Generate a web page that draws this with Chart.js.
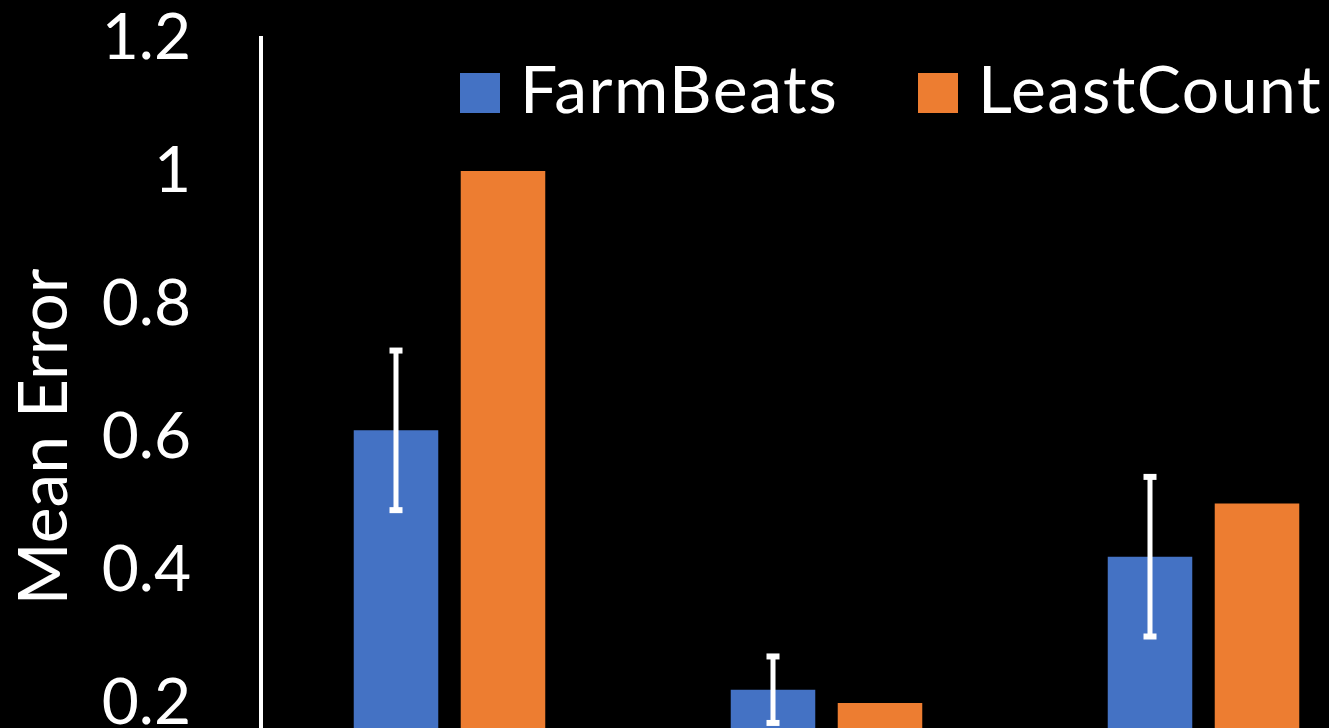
<!DOCTYPE html>
<html>
<head>
<meta charset="utf-8">
<script src="https://cdn.jsdelivr.net/npm/chart.js@4/dist/chart.umd.min.js"></script>
<style>
  html, body { margin: 0; padding: 0; background: #000; overflow: hidden; }
  #c { display: block; }
</style>
</head>
<body>
<canvas id="c" width="1400" height="880" style="width:1400px;height:880px"></canvas>
<script>
// ---- data ----
const categories = ['1', '2', '3'];
const seriesNames = ['FarmBeats', 'LeastCount'];
const farmBeats = [0.61, 0.22, 0.42];
const farmBeatsErr = [0.12, 0.05, 0.12];
const leastCount = [1.0, 0.2, 0.5];
const yTicks = [0, 0.2, 0.4, 0.6, 0.8, 1, 1.2];
const yTitle = 'Mean Error';

const colors = ['#4472C4', '#ED7D31'];
const FONT = 'Lato, "Open Sans", sans-serif';

const errorBars = {
  id: 'errorBars',
  afterDatasetsDraw(chart) {
    const meta = chart.getDatasetMeta(0);
    const y = chart.scales.y;
    const ctx = chart.ctx;
    ctx.save();
    ctx.strokeStyle = '#ffffff';
    ctx.fillStyle = '#ffffff';
    ctx.lineWidth = 5;
    meta.data.forEach((bar, i) => {
      const v = farmBeats[i], e = farmBeatsErr[i];
      const top = y.getPixelForValue(v + e);
      const bot = y.getPixelForValue(v - e);
      ctx.beginPath();
      ctx.moveTo(bar.x, top);
      ctx.lineTo(bar.x, bot);
      ctx.stroke();
      ctx.fillRect(bar.x - 6.5, top - 3, 13, 6);
      ctx.fillRect(bar.x - 6.5, bot - 3, 13, 6);
    });
    ctx.restore();
  }
};

const overlayLegend = {
  id: 'overlayLegend',
  afterDraw(chart) {
    const ctx = chart.ctx;
    const items = [{x: 460}, {x: 918}];
    ctx.save();
    ctx.font = '66px ' + FONT;
    if ('letterSpacing' in ctx) ctx.letterSpacing = '1.5px';
    ctx.textBaseline = 'alphabetic';
    ctx.textAlign = 'left';
    chart.data.datasets.forEach((ds, i) => {
      const x = items[i].x;
      ctx.fillStyle = ds.backgroundColor;
      ctx.fillRect(x, 73, 40, 40);
      ctx.fillStyle = '#ffffff';
      ctx.fillText(ds.label, x + 60, 113);
    });
    ctx.restore();
  }
};

new Chart(document.getElementById('c'), {
  type: 'bar',
  data: {
    labels: categories,
    datasets: [
      { label: seriesNames[0], data: farmBeats, backgroundColor: colors[0] },
      { label: seriesNames[1], data: leastCount, backgroundColor: colors[1] }
    ]
  },
  options: {
    responsive: false,
    maintainAspectRatio: false,
    devicePixelRatio: 1,
    animation: false,
    layout: { padding: { top: 38, right: 8, bottom: 44, left: 0 } },
    datasets: { bar: { categoryPercentage: 0.5676, barPercentage: 0.79 } },
    plugins: { legend: { display: false }, tooltip: { enabled: false } },
    scales: {
      x: { display: false },
      y: {
        min: 0, max: 1.2,
        afterFit(scale) { scale.width = 261; scale.paddingTop = 0; scale.paddingBottom = 0; },
        afterBuildTicks(scale) { scale.ticks = yTicks.map(v => ({ value: v })); },
        grid: { display: false, drawTicks: false },
        border: { display: true, color: '#ffffff', width: 4 },
        ticks: {
          color: '#ffffff',
          padding: 70,
          font: { family: FONT, size: 64, lineHeight: 1 },
          callback: (v) => String(+Number(v).toFixed(1))
        },
        title: {
          display: true,
          text: yTitle,
          color: '#ffffff',
          font: { family: FONT, size: 68, lineHeight: 1.2 },
          padding: { top: 4, bottom: 0 }
        }
      }
    }
  },
  plugins: [errorBars, overlayLegend]
});
</script>
</body>
</html>
